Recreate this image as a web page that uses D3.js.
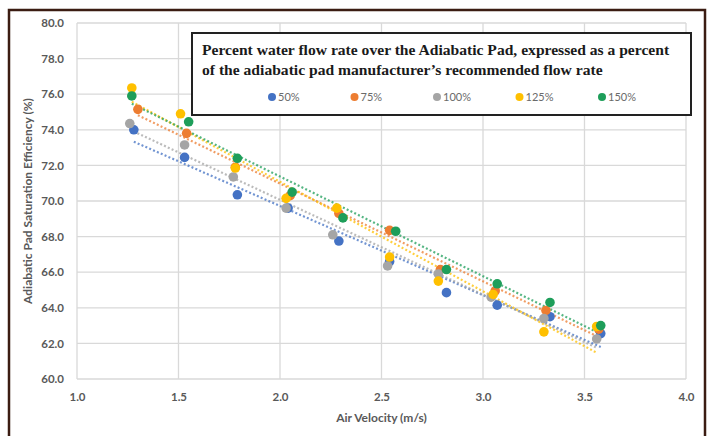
<!DOCTYPE html>
<html>
<head>
<meta charset="utf-8">
<script src="https://cdn.jsdelivr.net/npm/d3@7"></script>
<style>
  html, body { margin: 0; padding: 0; background: #fff; }
  svg { display: block; }
</style>
</head>
<body>
<svg id="chart" width="713" height="436"></svg>
<script>
// Flow-rate series (percent of manufacturer's recommended flow)
const seriesNames = ["50%", "75%", "100%", "125%", "150%"];
const seriesColors = ["#4472C4", "#ED7D31", "#A5A5A5", "#FFC000", "#1E9E5A"];

// Air velocity (m/s) for each series
const velocity50  = [1.28, 1.53, 1.79, 2.04, 2.29, 2.54, 2.82, 3.07, 3.33, 3.58];
const velocity75  = [1.30, 1.54, 1.78, 2.05, 2.29, 2.54, 2.79, 3.06, 3.31, 3.57];
const velocity100 = [1.26, 1.53, 1.77, 2.03, 2.26, 2.53, 2.78, 3.04, 3.30, 3.56];
const velocity125 = [1.27, 1.51, 1.78, 2.03, 2.28, 2.54, 2.78, 3.05, 3.30, 3.56];
const velocity150 = [1.27, 1.55, 1.79, 2.06, 2.31, 2.57, 2.82, 3.07, 3.33, 3.58];

// Saturation efficiency (%) for each series
const efficiency50  = [74.0, 72.45, 70.35, 69.6, 67.75, 66.6, 64.85, 64.15, 63.5, 62.55];
const efficiency75  = [75.15, 73.8, 71.9, 70.3, 69.3, 68.35, 66.15, 64.95, 63.85, 62.8];
const efficiency100 = [74.35, 73.15, 71.35, 69.6, 68.1, 66.35, 65.9, 64.6, 63.4, 62.25];
const efficiency125 = [76.35, 74.9, 71.85, 70.15, 69.6, 66.85, 65.5, 64.75, 62.65, 62.95];
const efficiency150 = [75.9, 74.45, 72.4, 70.5, 69.05, 68.3, 66.15, 65.35, 64.3, 63.0];

const xTicks = [1.0, 1.5, 2.0, 2.5, 3.0, 3.5, 4.0];
const yTicks = [60, 62, 64, 66, 68, 70, 72, 74, 76, 78, 80];

const legendTitle = [
  "Percent water flow rate over the Adiabatic Pad, expressed as a percent",
  "of the adiabatic pad manufacturer\u2019s recommended flow rate"
];
const xTitle = "Air Velocity (m/s)";
const yTitle = "Adiabatic Pad Saturation Efficiency (%)";

const velocities = [velocity50, velocity75, velocity100, velocity125, velocity150];
const efficiencies = [efficiency50, efficiency75, efficiency100, efficiency125, efficiency150];
const series = seriesNames.map((name, i) => ({
  name, color: seriesColors[i],
  points: velocities[i].map((v, j) => ({ x: v, y: efficiencies[i][j] }))
}));

const svg = d3.select("#chart");
const plot = { left: 77, right: 686, top: 23, bottom: 379 };

const x = d3.scaleLinear().domain([1.0, 4.0]).range([plot.left, plot.right]);
const y = d3.scaleLinear().domain([60, 80]).range([plot.bottom, plot.top]);

const sans = "Lato, 'Open Sans', sans-serif";
const labelColor = "#595959";

// Gridlines
svg.append("g")
  .selectAll("line.h").data(yTicks).join("line")
  .attr("x1", plot.left).attr("x2", plot.right)
  .attr("y1", d => y(d)).attr("y2", d => y(d))
  .attr("stroke", "#d9d9d9").attr("stroke-width", 1.3);
svg.append("g")
  .selectAll("line.v").data(xTicks).join("line")
  .attr("x1", d => x(d)).attr("x2", d => x(d))
  .attr("y1", plot.top).attr("y2", plot.bottom)
  .attr("stroke", "#d9d9d9").attr("stroke-width", 1.3);

// Axes (labels only; domain and tick marks hidden)
const xAxis = svg.append("g")
  .attr("transform", `translate(0,${plot.bottom})`)
  .call(d3.axisBottom(x).tickValues(xTicks).tickFormat(d3.format(".1f")).tickSize(0).tickPadding(14));
const yAxis = svg.append("g")
  .attr("transform", `translate(${plot.left},0)`)
  .call(d3.axisLeft(y).tickValues(yTicks).tickFormat(d3.format(".1f")).tickSize(0).tickPadding(13));
[xAxis, yAxis].forEach(a => {
  a.select(".domain").remove();
  a.selectAll("text")
    .attr("fill", labelColor)
    .style("font-family", sans)
    .style("font-size", "11.5px")
    .style("font-weight", "700");
});

// Axis titles
svg.append("text")
  .attr("x", (plot.left + plot.right) / 2).attr("y", 422)
  .attr("text-anchor", "middle")
  .attr("fill", labelColor)
  .style("font-family", sans).style("font-size", "12px").style("font-weight", "700")
  .text(xTitle);
svg.append("text")
  .attr("transform", `translate(32,${(plot.top + plot.bottom) / 2}) rotate(-90)`)
  .attr("text-anchor", "middle")
  .attr("fill", labelColor)
  .style("font-family", sans).style("font-size", "12px").style("font-weight", "700")
  .text(yTitle);

// Linear least-squares trendline per series
function linearFit(pts) {
  const mx = d3.mean(pts, p => p.x), my = d3.mean(pts, p => p.y);
  const sxy = d3.sum(pts, p => (p.x - mx) * (p.y - my));
  const sxx = d3.sum(pts, p => (p.x - mx) ** 2);
  const b = sxy / sxx, a = my - b * mx;
  const [x0, x1] = d3.extent(pts, p => p.x);
  return [{ x: x0, y: a + b * x0 }, { x: x1, y: a + b * x1 }];
}

const trend = svg.append("g");
series.forEach(s => {
  const fit = linearFit(s.points);
  trend.append("line")
    .attr("x1", x(fit[0].x)).attr("y1", y(fit[0].y))
    .attr("x2", x(fit[1].x)).attr("y2", y(fit[1].y))
    .attr("stroke", s.color)
    .attr("stroke-width", 2.2)
    .attr("stroke-dasharray", "2 2.2")
    .attr("opacity", 0.75);
});

// Data points
const marks = svg.append("g");
series.forEach(s => {
  marks.selectAll(null).data(s.points).join("circle")
    .attr("cx", d => x(d.x)).attr("cy", d => y(d.y))
    .attr("r", 4.8)
    .attr("fill", s.color);
});

// Legend box
const lg = { x: 192, y: 33, w: 499, h: 82 };
svg.append("rect")
  .attr("x", lg.x).attr("y", lg.y).attr("width", lg.w).attr("height", lg.h)
  .attr("fill", "#fff").attr("stroke", "#222").attr("stroke-width", 2);
svg.append("g").selectAll("text").data(legendTitle).join("text")
  .attr("x", lg.x + 10).attr("y", (d, i) => lg.y + 22 + i * 20)
  .attr("fill", "#1a1a1a")
  .style("font-family", "'Liberation Serif', 'Times New Roman', serif")
  .style("font-size", "15.6px").style("font-weight", "700")
  .text(d => d);

const legendX = d3.scalePoint().domain(seriesNames).range([272, 602]);
const items = svg.append("g").selectAll("g").data(series).join("g")
  .attr("transform", d => `translate(${legendX(d.name)},${lg.y + 64})`);
items.append("circle").attr("r", 4).attr("fill", d => d.color);
items.append("text")
  .attr("x", 6).attr("y", 4)
  .attr("fill", "#6a6a6a")
  .style("font-family", sans).style("font-size", "11px")
  .text(d => d.name);

// Outer frame
svg.append("path")
  .attr("d", "M9,436 V10 H705 V436")
  .attr("fill", "none")
  .attr("stroke", "#3b1c12")
  .attr("stroke-width", 2.5);
</script>
</body>
</html>
